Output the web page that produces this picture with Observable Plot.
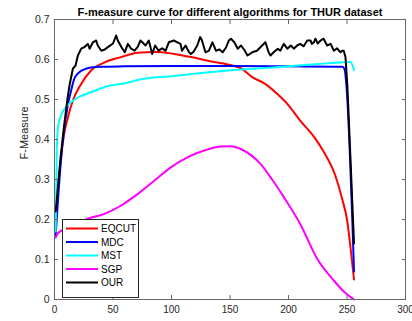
<!DOCTYPE html>
<html>
<head>
<meta charset="utf-8">
<script src="https://cdn.jsdelivr.net/npm/d3@7"></script>
<script src="https://cdn.jsdelivr.net/npm/@observablehq/plot@0.6"></script>
<style>
  html, body { margin: 0; padding: 0; background: #fff; }
  #chart { width: 412px; height: 321px; }
  svg { font-family: "Liberation Sans", Arial, Helvetica, sans-serif; }
</style>
</head>
<body>
<div id="chart"></div>
<script>
const title = "F-measure curve for different algorithms for THUR dataset";
const yLabel = "F-Measure";
const xTicks = [0, 50, 100, 150, 200, 250, 300];
const yTicks = [0, 0.1, 0.2, 0.3, 0.4, 0.5, 0.6, 0.7];

const seriesNames = ["EQCUT", "MDC", "MST", "SGP", "OUR"];
const seriesColors = ["#ff0000", "#0000ff", "#00ffff", "#ff00ff", "#000000"];

const eqcutX = [1, 3, 5, 8, 11, 16, 22, 31, 43, 57, 71, 87, 102, 117, 131, 149, 160, 169, 180, 190, 199, 210, 222, 230, 240, 246, 250, 253, 256];
const eqcutY = [0.19, 0.27, 0.34, 0.41, 0.45, 0.50, 0.535, 0.572, 0.593, 0.606, 0.617, 0.619, 0.614, 0.606, 0.597, 0.587, 0.577, 0.556, 0.539, 0.515, 0.489, 0.447, 0.406, 0.37, 0.31, 0.25, 0.20, 0.13, 0.05];

const mdcX = [1, 3, 5, 8, 11, 14, 17, 20, 23, 27, 31, 40, 60, 100, 150, 200, 240, 246, 248, 249.5, 256];
const mdcY = [0.16, 0.25, 0.33, 0.42, 0.48, 0.52, 0.552, 0.565, 0.572, 0.577, 0.580, 0.582, 0.583, 0.584, 0.584, 0.583, 0.582, 0.582, 0.575, 0.535, 0.07];

const mstX = [1, 2, 3, 5, 9, 14, 20, 31, 45, 59, 75, 102, 125, 146, 170, 200, 223, 240, 250, 253, 256];
const mstY = [0.17, 0.38, 0.43, 0.456, 0.478, 0.493, 0.505, 0.518, 0.533, 0.540, 0.551, 0.559, 0.566, 0.572, 0.577, 0.583, 0.588, 0.592, 0.594, 0.594, 0.573];

const sgpX = [1, 3, 6, 10, 20, 28.5, 42.7, 57, 71.2, 85.5, 99.7, 114, 128, 142.8, 150, 160, 176, 186, 196, 210, 224.5, 238.7, 248, 256];
const sgpY = [0.155, 0.166, 0.172, 0.178, 0.19, 0.202, 0.214, 0.235, 0.264, 0.2975, 0.331, 0.356, 0.3725, 0.3825, 0.383, 0.375, 0.339, 0.30, 0.256, 0.189, 0.102, 0.0475, 0.018, 0.0];

const ourX = [1, 2, 5, 8, 11, 12.8, 15.7, 18, 20, 22.8, 25.6, 28.5, 30, 32.8, 35.6, 37, 40, 43, 45.6, 50, 52.7, 54, 57, 60, 62.7, 65.5, 68.4, 71, 73.5, 77.8, 80.6, 83.5, 86, 89, 92, 95, 97.7, 102, 105, 107.7, 109, 112, 115, 116.6, 119, 122, 124.5, 126, 129, 132, 135, 138, 141, 143.7, 146.6, 149, 150.8, 153.7, 156.6, 159.4, 162, 165, 169, 173, 177.5, 180.3, 183, 184.6, 188, 190.9, 193, 196, 199, 202, 204.5, 207.4, 210, 213, 216, 218.8, 220, 221.7, 223, 225, 227.4, 230, 233, 236, 238.8, 241.5, 244.4, 245.8, 247.2, 248.7, 250.3, 253, 256];
const ourY = [0.22, 0.25, 0.35, 0.43, 0.50, 0.535, 0.577, 0.585, 0.61, 0.627, 0.631, 0.639, 0.627, 0.643, 0.6475, 0.635, 0.622, 0.625, 0.631, 0.64, 0.66, 0.648, 0.632, 0.618, 0.639, 0.627, 0.622, 0.631, 0.6475, 0.635, 0.6475, 0.614, 0.635, 0.622, 0.628, 0.622, 0.643, 0.6475, 0.643, 0.639, 0.622, 0.635, 0.618, 0.614, 0.62, 0.635, 0.656, 0.648, 0.618, 0.622, 0.643, 0.622, 0.625, 0.618, 0.63, 0.6475, 0.652, 0.643, 0.627, 0.635, 0.625, 0.61, 0.618, 0.622, 0.635, 0.643, 0.618, 0.61, 0.62, 0.627, 0.622, 0.639, 0.627, 0.635, 0.627, 0.635, 0.639, 0.633, 0.6475, 0.6475, 0.639, 0.643, 0.652, 0.64, 0.6475, 0.652, 0.635, 0.639, 0.622, 0.628, 0.618, 0.622, 0.622, 0.606, 0.535, 0.35, 0.14];

const seriesX = [eqcutX, mdcX, mstX, sgpX, ourX];
const seriesY = [eqcutY, mdcY, mstY, sgpY, ourY];
const seriesCurve = ["monotone-x", "monotone-x", "monotone-x", "monotone-x", "linear"];

const rows = (i) => seriesX[i].map((x, k) => ({x, y: seriesY[i][k], s: seriesNames[i]}));

const axisColor = "#666";
const textColor = "#262626";

const lineMarks = seriesNames.map((name, i) =>
  Plot.line(rows(i), {x: "x", y: "y", stroke: seriesColors[i], strokeWidth: 2, curve: seriesCurve[i]})
);

const chart = Plot.plot({
  width: 412,
  height: 321,
  marginLeft: 54,
  marginRight: 7,
  marginTop: 19,
  marginBottom: 22,
  style: {fontFamily: '"Liberation Sans", Arial, Helvetica, sans-serif', background: "#fff"},
  x: {domain: [0, 300]},
  y: {domain: [0, 0.7]},
  marks: [
    ...lineMarks,
    Plot.frame({stroke: axisColor}),
    Plot.axisX({anchor: "bottom", ticks: xTicks, tickSize: -4, text: null, label: null, stroke: axisColor}),
    Plot.axisX({anchor: "top", ticks: xTicks, tickSize: -4, text: null, label: null, stroke: axisColor}),
    Plot.axisY({anchor: "left", ticks: yTicks, tickSize: -4, text: null, label: null, stroke: axisColor}),
    Plot.axisY({anchor: "right", ticks: yTicks, tickSize: -4, text: null, label: null, stroke: axisColor}),
    Plot.axisX({anchor: "bottom", ticks: xTicks, tickSize: 0, tickPadding: 6, fontSize: 10, fill: textColor, tickFormat: d => String(d), label: null}),
    Plot.axisY({anchor: "left", ticks: yTicks, tickSize: 0, tickPadding: 5, fontSize: 10.5, fill: textColor, tickFormat: d => String(d), label: null}),
    Plot.text([yLabel], {frameAnchor: "left", dx: -30, rotate: -90, fontSize: 11, fill: textColor}),
    Plot.text([title], {frameAnchor: "top", lineAnchor: "middle", dy: -7, fontSize: 11, fontWeight: "bold", fill: "#000"})
  ]
});

document.getElementById("chart").appendChild(chart);

// Legend box (drawn inside the plot frame, lower-left)
const svg = d3.select(chart);
const lg = svg.append("g").attr("class", "legend").attr("text-anchor", "start");
const lx = 62, ly = 219, lw = 76, lh = 78, rowH = 13.5;
lg.append("rect").attr("x", lx + 0.5).attr("y", ly + 0.5).attr("width", lw).attr("height", lh)
  .attr("fill", "#fff").attr("stroke", "#262626").attr("stroke-width", 1);
seriesNames.forEach((name, i) => {
  const cy = ly + 9.5 + i * rowH;
  lg.append("line").attr("x1", lx + 4).attr("x2", lx + 36).attr("y1", cy).attr("y2", cy)
    .attr("stroke", seriesColors[i]).attr("stroke-width", 2);
  lg.append("text").attr("x", lx + 39).attr("y", cy).attr("dy", "0.35em")
    .attr("text-anchor", "start").attr("font-size", 10).attr("fill", "#000").text(name);
});
</script>
</body>
</html>
